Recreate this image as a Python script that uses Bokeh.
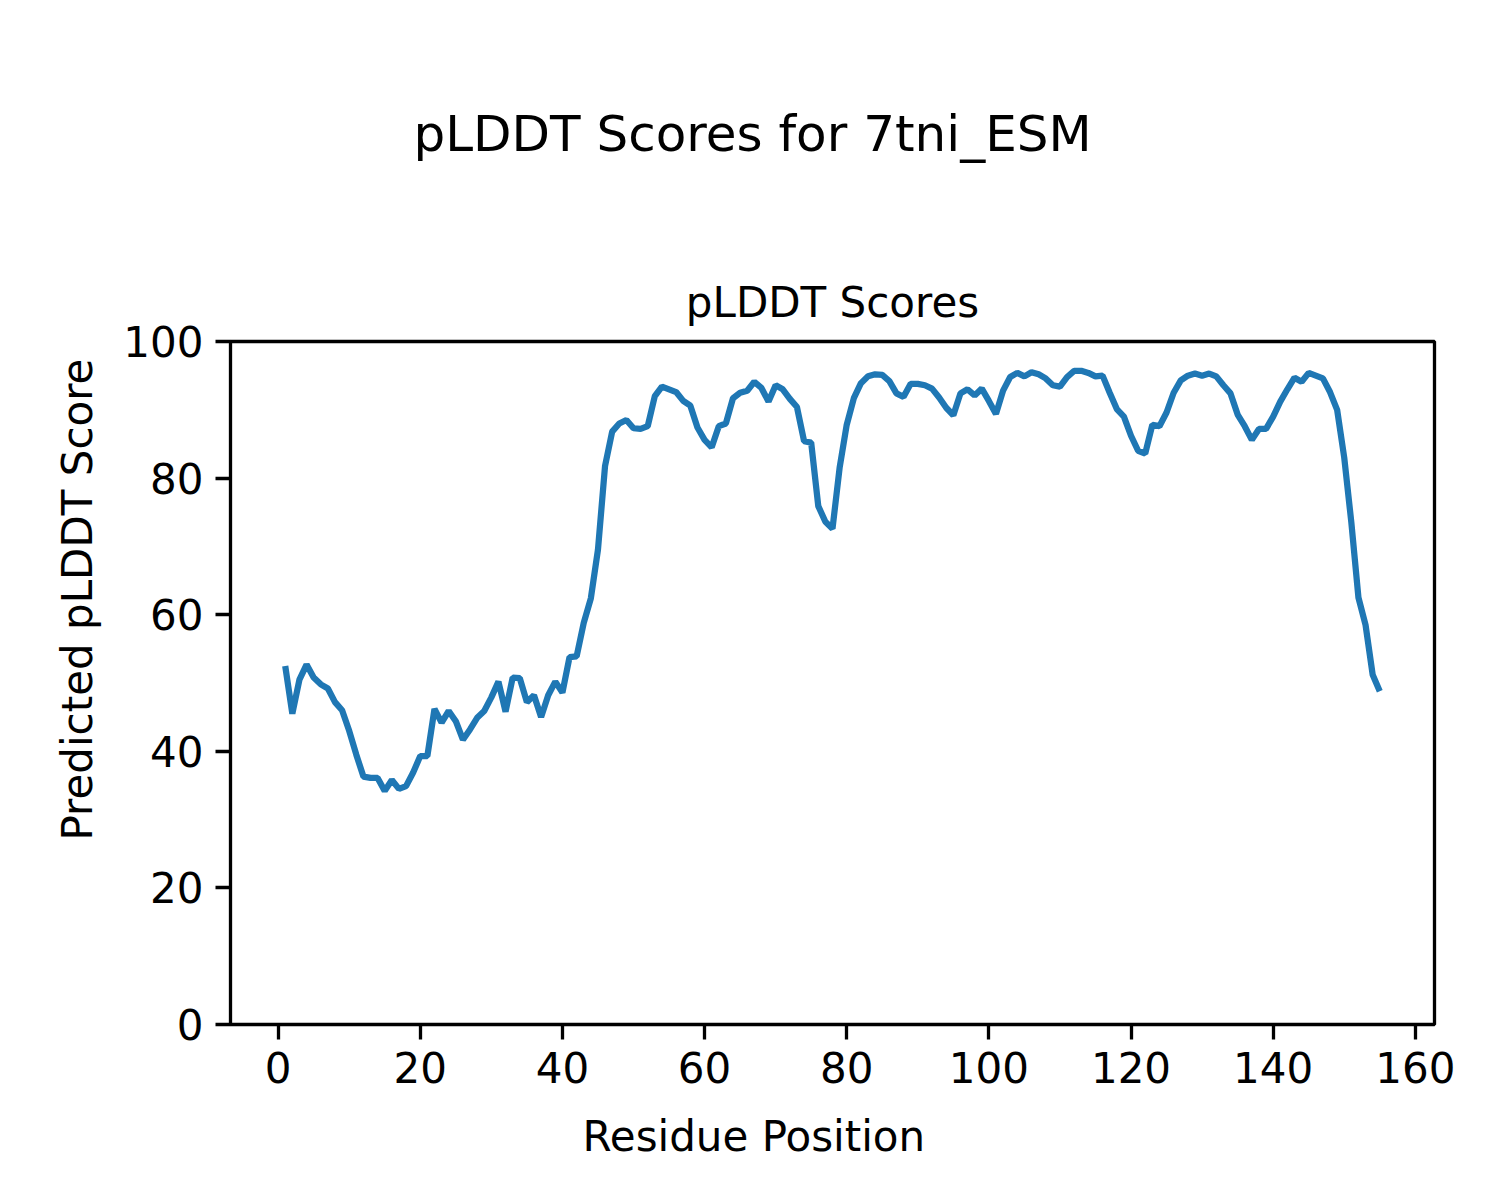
from bokeh.plotting import figure
from bokeh.models import Title, Range1d, FixedTicker
from bokeh.embed import file_html
from bokeh.resources import INLINE

residues = list(range(1, 156))
plddt = [
    52.5, 45.5, 50.5, 52.7, 50.8, 49.8, 49.2, 47.2, 46.0, 43.0,
    39.5, 36.3, 36.1, 36.1, 34.2, 35.8, 34.5, 34.9, 36.9, 39.3,
    39.3, 46.2, 44.2, 45.9, 44.4, 41.7, 43.2, 44.9, 45.9, 47.9,
    50.2, 45.8, 50.8, 50.7, 47.2, 48.2, 45.0, 48.2, 50.2, 48.6,
    53.8, 53.9, 58.8, 62.4, 69.5, 81.8, 86.8, 88.0, 88.5, 87.3,
    87.2, 87.6, 92.0, 93.4, 93.0, 92.6, 91.3, 90.6, 87.4, 85.6,
    84.5, 87.6, 88.0, 91.7, 92.5, 92.8, 94.1, 93.2, 91.2, 93.6,
    93.0, 91.6, 90.4, 85.4, 85.2, 75.9, 73.6, 72.6, 81.5, 87.8,
    91.7, 93.9, 94.9, 95.2, 95.1, 94.2, 92.4, 91.9, 93.8, 93.8,
    93.6, 93.1, 91.8, 90.3, 89.2, 92.4, 93.0, 92.1, 93.1, 91.3,
    89.4, 92.8, 94.8, 95.4, 94.9, 95.5, 95.2, 94.6, 93.6, 93.4,
    94.8, 95.7, 95.7, 95.4, 94.9, 95.0, 92.5, 90.1, 89.0, 86.2,
    84.0, 83.6, 87.8, 87.6, 89.6, 92.5, 94.3, 95.0, 95.3, 95.0,
    95.3, 94.9, 93.6, 92.4, 89.3, 87.6, 85.6, 87.2, 87.2, 89.0,
    91.2, 93.0, 94.7, 94.1, 95.4, 95.0, 94.6, 92.6, 90.0, 83.0,
    73.5, 62.5, 58.5, 51.2, 48.8,
]
x_ticks = [0, 20, 40, 60, 80, 100, 120, 140, 160]
y_ticks = [0, 20, 40, 60, 80, 100]

suptitle_text = "pLDDT Scores for 7tni_ESM"
axes_title_text = "pLDDT Scores"
x_label = "Residue Position"
y_label = "Predicted pLDDT Score"

FONT = "DejaVu Sans"

span = residues[-1] - residues[0]
p = figure(
    width=1484, height=1184,
    output_backend="svg", toolbar_location=None,
    x_range=Range1d(residues[0] - 0.05 * span, residues[-1] + 0.05 * span),
    y_range=Range1d(0, 100),
    min_border_left=230, min_border_right=50,
    min_border_top=341, min_border_bottom=160,
)
# figure-level title (outermost)
p.title.text = suptitle_text
p.title.align = "left"
p.title.offset = 183
p.title.text_font = FONT
p.title.text_font_size = "50px"
p.title.text_font_style = "normal"
p.title.text_color = "black"
p.title.standoff = 196

# axes title (closest to the frame)
p.add_layout(Title(text=axes_title_text, align="center", text_font=FONT,
                   text_font_size="42px", text_font_style="normal",
                   text_color="black", standoff=30), "above")

# figure-level x / y labels (centred on the figure, like supxlabel / supylabel)
p.add_layout(Title(text=x_label, align="left", offset=352, text_font=FONT,
                   text_font_size="42px", text_font_style="normal",
                   text_color="black", standoff=48), "below")
p.add_layout(Title(text=y_label, align="left", offset=184, text_font=FONT,
                   text_font_size="42px", text_font_style="normal",
                   text_color="black", standoff=37), "left")

p.line(residues, plddt, line_color="#1f77b4", line_width=6.25)

p.grid.visible = False
p.outline_line_color = "black"
p.outline_line_width = 3.3
p.outline_line_alpha = 1.0

for ax in (p.xaxis[0], p.yaxis[0]):
    ax.axis_line_color = None
    ax.major_tick_line_width = 3.3
    ax.major_tick_line_color = "black"
    ax.major_tick_out = 15
    ax.major_tick_in = 0
    ax.minor_tick_line_color = None
    ax.major_label_text_font = FONT
    ax.major_label_text_font_size = "42px"
    ax.major_label_text_color = "black"
    ax.major_label_standoff = 12

p.xaxis.ticker = FixedTicker(ticks=x_ticks)
p.yaxis.ticker = FixedTicker(ticks=y_ticks)

open("out.html", "w").write(file_html(p, INLINE))
